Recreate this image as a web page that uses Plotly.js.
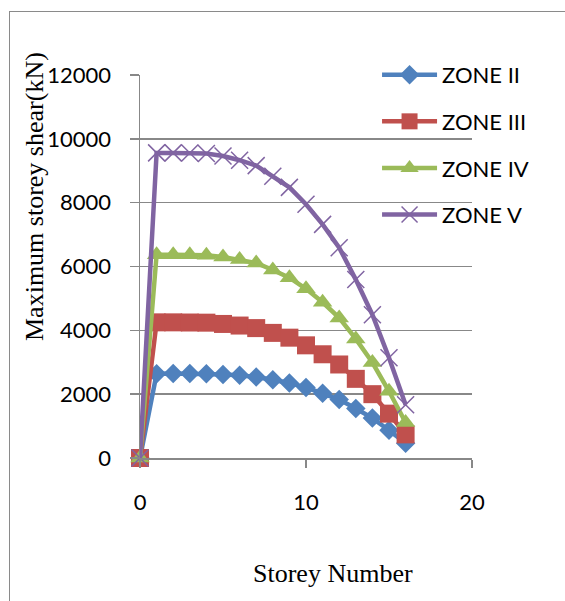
<!DOCTYPE html>
<html>
<head>
<meta charset="utf-8">
<script src="https://cdn.plot.ly/plotly-3.0.1.min.js"></script>
<style>
  html, body { margin: 0; padding: 0; background: #fff; }
  #wrap { position: relative; width: 565px; height: 601px; overflow: hidden; }
  #chart { position: absolute; left: 0; top: 0; width: 565px; height: 601px; }
  #frame { position: absolute; left: 9px; top: 11px; width: 600px; height: 620px;
           border-left: 1.5px solid #8a8a8a; border-top: 1.5px solid #8a8a8a;
           pointer-events: none; }
</style>
</head>
<body>
<div id="wrap">
  <div id="chart"></div>
  <div id="frame"></div>
</div>
<script>
// Data
const storeys = [0, 1, 2, 3, 4, 5, 6, 7, 8, 9, 10, 11, 12, 13, 14, 15, 16];
const zoneII  = [0, 2640, 2650, 2650, 2640, 2620, 2590, 2540, 2450, 2350, 2210, 2030, 1830, 1550, 1250, 870, 465];
const zoneIII = [0, 4250, 4250, 4245, 4240, 4200, 4150, 4070, 3920, 3770, 3530, 3250, 2930, 2480, 2000, 1390, 740];
const zoneIV  = [0, 6370, 6370, 6365, 6350, 6300, 6220, 6110, 5890, 5650, 5300, 4880, 4390, 3730, 2990, 2090, 1110];
const zoneV   = [0, 9560, 9560, 9555, 9540, 9460, 9330, 9160, 8830, 8480, 7950, 7320, 6590, 5590, 4490, 3140, 1670];
const seriesNames = ['ZONE II', 'ZONE III', 'ZONE IV', 'ZONE V'];
const xTicks = [0, 10, 20];
const yTicks = [0, 2000, 4000, 6000, 8000, 10000, 12000];

const tickFont = { family: 'Lato, "Open Sans", sans-serif', size: 22, color: '#000' };
const gridCol = '#888888';

function tr(y, name, color, symbol, size, group, extraMarker) {
  return {
    type: 'scatter', mode: 'lines+markers',
    x: storeys, y: y, name: name, legendgroup: group,
    cliponaxis: false,
    line: { color: color, width: 4.5 },
    marker: Object.assign({ color: color, symbol: symbol, size: size }, extraMarker || {})
  };
}

const traces = [
  tr(zoneII,  seriesNames[0], '#4F81BD', 'diamond', 15, 'g1'),
  tr(zoneIII, seriesNames[1], '#C0504D', 'square', 18, 'g2'),
  tr(zoneIV,  seriesNames[2], '#9BBB59', 'triangle-up', 17, 'g3'),
  tr(zoneV,   seriesNames[3], '#8064A2', 'x-thin', 17, 'g4', { line: { color: '#8064A2', width: 1.5 } })
];

const layout = {
  width: 565, height: 601,
  margin: { l: 140, r: 93, t: 75, b: 143, pad: 0 },
  paper_bgcolor: '#fff', plot_bgcolor: 'rgba(0,0,0,0)',
  showlegend: true,
  xaxis: {
    range: [0, 20], tickvals: xTicks, ticktext: xTicks.map(String),
    showgrid: false, zeroline: false,
    showline: true, linecolor: gridCol, linewidth: 1.5,
    ticks: 'outside', ticklen: 8, tickcolor: gridCol, tickwidth: 1.5,
    tickfont: tickFont, ticklabelstandoff: 16, fixedrange: true
  },
  yaxis: {
    range: [0, 12000], tickvals: yTicks, ticktext: yTicks.map(String),
    showgrid: true, gridcolor: gridCol, gridwidth: 1.5, zeroline: false,
    showline: true, linecolor: gridCol, linewidth: 1.5,
    ticks: 'outside', ticklen: 9, tickcolor: gridCol, tickwidth: 1.5,
    tickfont: tickFont, ticklabelstandoff: 14, fixedrange: true
  },
  legend: {
    x: 0.714, y: 1.055, xanchor: 'left', yanchor: 'top',
    bgcolor: 'rgba(0,0,0,0)', borderwidth: 0,
    itemwidth: 55,
    traceorder: 'grouped', tracegroupgap: 15,
    font: { family: 'Lato, "Open Sans", sans-serif', size: 22, color: '#000' }
  },
  annotations: [
    { text: 'Maximum storey shear(kN)', xref: 'paper', yref: 'paper',
      x: (34 - 140) / 332, y: (458 - 197) / 383, xanchor: 'center', yanchor: 'middle',
      textangle: -90, showarrow: false,
      font: { family: '"Liberation Serif", "Times New Roman", serif', size: 26, color: '#000' } },
    { text: 'Storey Number', xref: 'paper', yref: 'paper',
      x: (333 - 140) / 332, y: (458 - 573) / 383, xanchor: 'center', yanchor: 'middle',
      showarrow: false,
      font: { family: '"Liberation Serif", "Times New Roman", serif', size: 26, color: '#000' } }
  ]
};

Plotly.newPlot('chart', traces, layout, { displayModeBar: false, staticPlot: true });
</script>
</body>
</html>
